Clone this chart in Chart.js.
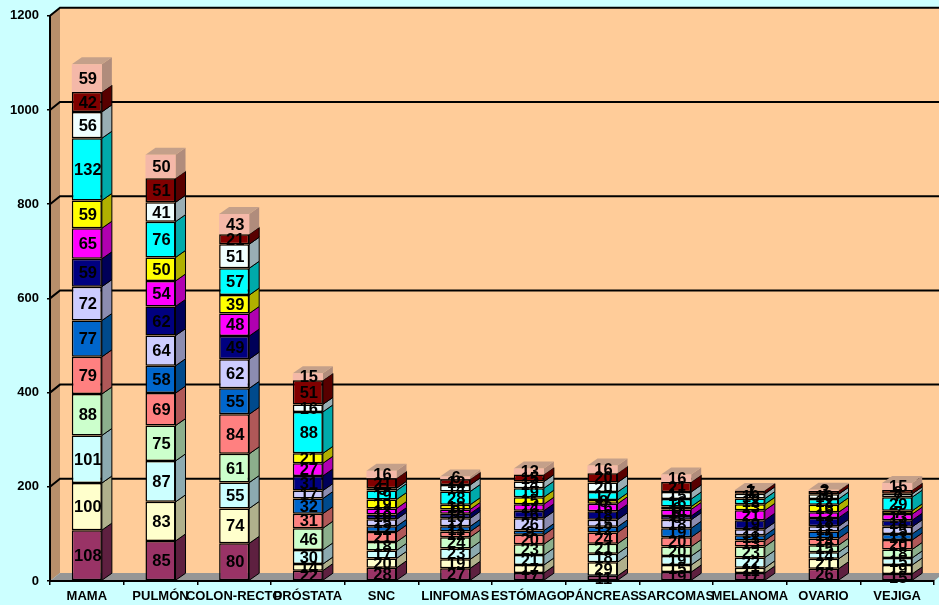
<!DOCTYPE html>
<html><head><meta charset="utf-8">
<style>html,body{margin:0;padding:0;background:#CCFFFF;overflow:hidden}canvas{display:block;filter:blur(0.35px)}</style>
<script src="https://cdn.jsdelivr.net/npm/chart.js@4"></script>
</head><body><canvas id="c" width="939" height="605"></canvas>
<script>
const categories = ['MAMA','PULMÓN','COLON-RECTO','PRÓSTATA','SNC','LINFOMAS','ESTÓMAGO','PÁNCREAS','SARCOMAS','MELANOMA','OVARIO','VEJIGA'];
const mama     = [108,100,101,88,79,77,72,59,65,59,132,56,42,59];
const pulmon   = [85,83,87,75,69,58,64,62,54,50,76,41,51,50];
const colon    = [80,74,55,61,84,55,62,49,48,39,57,51,21,43];
const prostata = [22,14,30,46,31,32,17,31,27,21,88,16,51,15];
const snc      = [28,20,17,18,21,12,15,10,13,19,19,5,21,16];
const linfomas = [27,19,23,24,12,11,17,10,9,10,28,14,12,6];
const estomago = [17,17,21,23,20,9,26,16,14,15,19,14,15,13];
const pancreas = [11,29,18,21,24,12,15,18,16,8,17,20,20,16];
const sarcomas = [19,15,19,20,20,19,18,8,14,6,16,15,21,16];
const melanoma = [17,11,22,23,13,11,13,19,21,13,12,10,7,1];
const ovario   = [26,21,14,15,14,15,11,18,12,16,12,10,7,3];
const vejiga   = [15,19,15,18,20,13,15,14,13,7,29,7,8,15];
const yTicks   = [0,200,400,600,800,1000,1200];
const stacks   = [mama,pulmon,colon,prostata,snc,linfomas,estomago,pancreas,sarcomas,melanoma,ovario,vejiga];
const layerColors = ['#993366','#FFFFCC','#CCFFFF','#CCFFCC','#FF8080','#0066CC','#CCCCFF','#000080','#FF00FF','#FFFF00','#00FFFF','#EFFFFF','#800000','#F4B8A8'];
const sideColors  = ['#5E2040','#B0B08C','#8CAAB0','#8CAF8C','#B05858','#004A8C','#8C8CB0','#000058','#B000B0','#B0B000','#00AAAA','#99AEB4','#580000','#B08C7C'];
const topColor = '#C4A08A';
const DX = 10, DY = 7, WX = 10, WY = 8;

const datasets = layerColors.map((col,i)=>({
  label:'S'+(i+1),
  data: stacks.map(s=>s[i]),
  backgroundColor: col,
  borderColor: '#000',
  borderWidth: i===layerColors.length-1 ? 0 : 1.5,
  borderSkipped: false,
  categoryPercentage: 1,
  barPercentage: 0.408
}));

const poly = (ctx,pts,fill,stroke)=>{
  ctx.beginPath();
  pts.forEach((p,i)=> i? ctx.lineTo(p[0],p[1]) : ctx.moveTo(p[0],p[1]));
  ctx.closePath();
  if(fill){ctx.fillStyle=fill;ctx.fill();}
  if(stroke){ctx.strokeStyle=stroke;ctx.lineWidth=1;ctx.stroke();}
};

const scene = {
  id:'scene',
  beforeDraw(chart){
    const {ctx,chartArea:a,scales:{y}} = chart;
    ctx.save();
    ctx.fillStyle='#CCFFFF';ctx.fillRect(0,0,chart.width,chart.height);
    poly(ctx,[[a.left+WX,a.top-WY],[a.right+WX,a.top-WY],[a.right+WX,a.bottom-WY],[a.left+WX,a.bottom-WY]],'#FFCC99');
    poly(ctx,[[a.left,a.top],[a.left+WX,a.top-WY],[a.left+WX,a.bottom-WY],[a.left,a.bottom]],'#B88F6B');
    poly(ctx,[[a.left,a.bottom],[a.left+WX,a.bottom-WY],[a.right+WX,a.bottom-WY],[a.right,a.bottom]],'#969696');
    ctx.strokeStyle='#000';ctx.lineWidth=2;
    yTicks.forEach(v=>{
      if(v===0) return;
      const py=y.getPixelForValue(v);
      ctx.beginPath();ctx.moveTo(a.left,py);ctx.lineTo(a.left+WX,py-WY);ctx.lineTo(a.right+WX,py-WY);ctx.stroke();
    });
    ctx.restore();
  },
  beforeDatasetsDraw(chart){
    const ctx=chart.ctx;
    ctx.save();
    const n=chart.data.datasets.length;
    for(let d=0;d<n;d++){
      chart.getDatasetMeta(d).data.forEach(b=>{
        const r=b.x+b.width/2, t=b.y, bt=b.base;
        const last=d===n-1;
        poly(ctx,[[r,t],[r+DX,t-DY],[r+DX,bt-DY],[r,bt]],sideColors[d],last?null:'#000');
        if(last){
          const l=b.x-b.width/2;
          poly(ctx,[[l,t],[l+DX,t-DY],[r+DX,t-DY],[r,t]],topColor);
        }
      });
    }
    ctx.restore();
  },
  afterDatasetsDraw(chart){
    const ctx=chart.ctx;
    ctx.save();
    ctx.font='bold 16.5px "Liberation Sans", Arial, sans-serif';
    ctx.fillStyle='#000';ctx.textAlign='center';ctx.textBaseline='middle';
    chart.data.datasets.forEach((ds,d)=>{
      chart.getDatasetMeta(d).data.forEach((b,j)=>{
        ctx.fillText(String(ds.data[j]), b.x+1, (b.y+b.base)/2+1);
      });
    });
    ctx.restore();
  }
};

new Chart(document.getElementById('c'),{
  type:'bar',
  data:{labels:categories,datasets},
  plugins:[scene],
  options:{
    responsive:false,animation:false,
    devicePixelRatio:1,
    layout:{padding:{top:15,right:5,left:0,bottom:0}},
    plugins:{legend:{display:false},tooltip:{enabled:false},title:{display:false}},
    scales:{
      x:{stacked:true,offset:true,
        afterFit(s){s.height=24;},
        grid:{display:true,drawOnChartArea:false,drawTicks:true,tickLength:4,color:'#000',lineWidth:1.5,offset:true},
        border:{display:true,color:'#000',width:2},
        ticks:{autoSkip:false,maxRotation:0,minRotation:0,padding:4,color:'#000',font:{family:'"Liberation Sans", Arial, sans-serif',size:13,weight:'bold'}}
      },
      y:{stacked:true,min:0,max:1200,
        afterFit(s){s.width=50;},
        afterBuildTicks(s){s.ticks=yTicks.map(v=>({value:v}));},
        grid:{display:true,drawOnChartArea:false,drawTicks:true,tickLength:3,color:'#000',lineWidth:1.5},
        border:{display:true,color:'#000',width:2},
        ticks:{padding:8,color:'#000',callback:v=>String(v),font:{family:'"Liberation Sans", Arial, sans-serif',size:13,weight:'bold'}}
      }
    }
  }
});
</script></body></html>
